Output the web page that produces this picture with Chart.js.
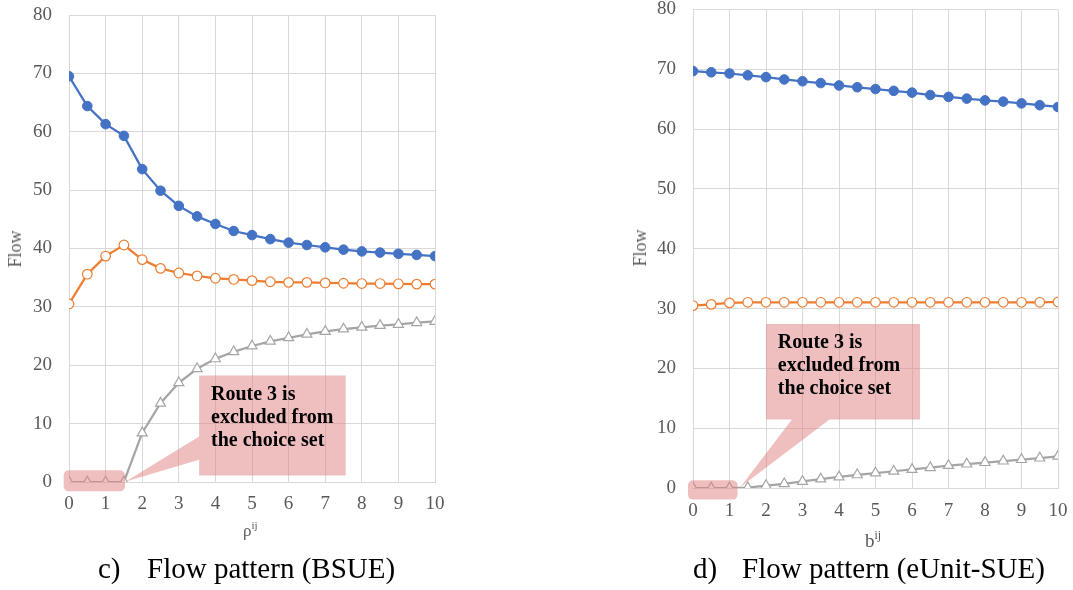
<!DOCTYPE html>
<html>
<head>
<meta charset="utf-8">
<script src="https://cdn.jsdelivr.net/npm/chart.js@4/dist/chart.umd.min.js"></script>
<style>
  body { margin: 0; background: #fff; width: 1073px; height: 590px; overflow: hidden; position: relative; font-family: "Liberation Serif", "Times New Roman", serif; }
  canvas { position: absolute; top: 0; }
  #leftChart { left: 0; }
  #rightChart { left: 620px; }
  .txt { position: absolute; white-space: pre; color: #595959; }
  .flow { font-size: 18px; line-height: 18px; transform: translate(-50%, -50%) rotate(-90deg); }
  .cap { font-size: 29px; line-height: 29px; color: #000; top: 554px; }
  sup { vertical-align: 0; position: relative; }
</style>
</head>
<body>
<canvas id="leftChart" width="460" height="590"></canvas>
<canvas id="rightChart" width="453" height="590"></canvas>

<div class="txt flow" style="left:15px; top:249px;">Flow</div>
<div class="txt flow" style="left:640px; top:248px;">Flow</div>

<div class="txt" style="left:243px; top:522px; font-size:17px; line-height:17px;">ρ<sup style="font-size:11px; top:-7px;">ij</sup></div>
<div class="txt" style="left:865px; top:531px; font-size:19px; line-height:19px;">b<sup style="font-size:12px; top:-8px;">ij</sup></div>

<div class="txt cap" style="left:98px;">c)</div>
<div class="txt cap" style="left:147px;">Flow pattern (BSUE)</div>
<div class="txt cap" style="left:693px;">d)</div>
<div class="txt cap" style="left:742px;">Flow pattern (eUnit-SUE)</div>

<script>
// shared x values (parameter rho / b)
var xValues = [0, 0.5, 1, 1.5, 2, 2.5, 3, 3.5, 4, 4.5, 5, 5.5, 6, 6.5, 7, 7.5, 8, 8.5, 9, 9.5, 10];
var yTicks = [0, 10, 20, 30, 40, 50, 60, 70, 80];
var xTicks = [0, 1, 2, 3, 4, 5, 6, 7, 8, 9, 10];

// c) BSUE route flows
var bsueRoute1 = [69.5, 64.4, 61.3, 59.3, 53.6, 49.9, 47.3, 45.5, 44.2, 43.0, 42.3, 41.6, 41.0, 40.6, 40.2, 39.8, 39.5, 39.3, 39.1, 38.9, 38.7];
var bsueRoute2 = [30.5, 35.6, 38.7, 40.6, 38.1, 36.6, 35.8, 35.3, 34.9, 34.7, 34.5, 34.3, 34.2, 34.2, 34.1, 34.05, 34.0, 34.0, 33.95, 33.9, 33.9];
var bsueRoute3 = [0, 0, 0, 0, 8.4, 13.5, 17.0, 19.4, 21.1, 22.3, 23.3, 24.1, 24.7, 25.3, 25.8, 26.2, 26.5, 26.8, 27.0, 27.3, 27.5];

// d) eUnit-SUE route flows
var eunitRoute1 = [69.7, 69.5, 69.3, 69.0, 68.7, 68.3, 68.0, 67.7, 67.3, 67.0, 66.7, 66.4, 66.1, 65.7, 65.4, 65.1, 64.8, 64.6, 64.3, 64.0, 63.7];
var eunitRoute2 = [30.5, 30.7, 30.95, 31.05, 31.05, 31.05, 31.05, 31.05, 31.05, 31.05, 31.05, 31.05, 31.05, 31.05, 31.05, 31.05, 31.05, 31.05, 31.05, 31.05, 31.1];
var eunitRoute3 = [0, 0, 0, 0.05, 0.4, 0.7, 1.1, 1.5, 1.85, 2.2, 2.5, 2.8, 3.1, 3.4, 3.75, 4.0, 4.25, 4.5, 4.75, 5.0, 5.3];

var BLUE = "#4472C4", ORANGE = "#ED7D31", GRAY = "#A5A5A5";
var GRID = "#d9d9d9", TICK = "#595959";
var PINK = "rgba(224, 128, 128, 0.5)";
var SERIF = "'Liberation Serif', 'Times New Roman', serif";

function toPoints(ys) {
  return xValues.map(function (x, i) { return { x: x, y: ys[i] }; });
}

function makeDatasets(r1, r2, r3) {
  return [
    { data: toPoints(r1), borderColor: BLUE, backgroundColor: BLUE, borderWidth: 2.25,
      pointStyle: "circle", pointRadius: 4.8, pointBorderWidth: 1, pointBackgroundColor: BLUE },
    { data: toPoints(r2), borderColor: ORANGE, backgroundColor: "#fff", borderWidth: 2.25,
      pointStyle: "circle", pointRadius: 4.8, pointBorderWidth: 1.2, pointBackgroundColor: "#fff" },
    { data: toPoints(r3), borderColor: GRAY, backgroundColor: "#fff", borderWidth: 2.25,
      pointStyle: "triangle", pointRadius: 5.8, pointBorderWidth: 1.2, pointBackgroundColor: "#fff" }
  ];
}

// pink callout + highlight box, given in data units
var calloutPlugin = {
  id: "callout",
  afterDatasetsDraw: function (chart) {
    var c = chart.options.plugins.callout;
    if (!c) return;
    var xs = chart.scales.x, ys = chart.scales.y, ctx = chart.ctx;
    var px = function (v) { return xs.getPixelForValue(v); };
    var py = function (v) { return ys.getPixelForValue(v); };
    ctx.save();
    ctx.fillStyle = PINK;

    // callout box with its tail in one path
    var b = c.box, t = c.tail;
    ctx.beginPath();
    ctx.moveTo(px(b.x0), py(b.y1));
    ctx.lineTo(px(b.x1), py(b.y1));
    ctx.lineTo(px(b.x1), py(b.y0));
    if (t.side === "bottom") {
      ctx.lineTo(px(t.b1), py(b.y0));
      ctx.lineTo(px(t.tipX), py(t.tipY));
      ctx.lineTo(px(t.b0), py(b.y0));
      ctx.lineTo(px(b.x0), py(b.y0));
    } else {
      ctx.lineTo(px(b.x0), py(b.y0));
      ctx.lineTo(px(b.x0), py(t.b0));
      ctx.lineTo(px(t.tipX), py(t.tipY));
      ctx.lineTo(px(b.x0), py(t.b1));
    }
    ctx.closePath();
    ctx.fill();

    // small rounded highlight over the zero flows
    var h = c.highlight;
    ctx.beginPath();
    ctx.roundRect(px(h.x0), py(h.y1), px(h.x1) - px(h.x0), py(h.y0) - py(h.y1), 5);
    ctx.fill();

    // label
    ctx.fillStyle = "#000";
    ctx.font = "bold 20px " + SERIF;
    ctx.textBaseline = "alphabetic";
    ctx.textAlign = "left";
    var tx = px(c.text.x), ty = py(c.text.y);
    c.text.lines.forEach(function (line, i) {
      ctx.fillText(line, tx, ty + i * 23);
    });
    ctx.restore();
  }
};

// tick gaps come from invisible tick marks so the scales don't pad the chart area
function makeChart(id, datasets, yWidth, xHeight, padTop, padRight, xGap, callout) {
  return new Chart(document.getElementById(id), {
    type: "line",
    data: { datasets: datasets },
    plugins: [calloutPlugin],
    options: {
      responsive: false,
      animation: false,
      layout: { padding: { top: padTop, right: padRight, left: 0, bottom: 0 } },
      plugins: { legend: { display: false }, tooltip: { enabled: false }, callout: callout },
      scales: {
        x: {
          type: "linear", min: 0, max: 10,
          afterFit: function (s) { s.height = xHeight; },
          afterBuildTicks: function (s) { s.ticks = xTicks.map(function (v) { return { value: v }; }); },
          grid: { color: GRID, lineWidth: 1, drawTicks: true, tickLength: xGap, tickColor: "rgba(0,0,0,0)" },
          border: { color: GRID },
          ticks: { padding: 0, color: TICK, font: { family: SERIF, size: 19 } }
        },
        y: {
          min: 0, max: 80,
          afterFit: function (s) { s.width = yWidth; },
          afterBuildTicks: function (s) { s.ticks = yTicks.map(function (v) { return { value: v }; }); },
          grid: { color: GRID, lineWidth: 1, drawTicks: true, tickLength: 17, tickColor: "rgba(0,0,0,0)" },
          border: { color: GRID },
          ticks: { padding: 0, color: TICK, font: { family: SERIF, size: 19, lineHeight: 1 } }
        }
      }
    }
  });
}

var label = ["Route 3 is", "excluded from", "the choice set"];

// c) Flow pattern (BSUE)
makeChart("leftChart", makeDatasets(bsueRoute1, bsueRoute2, bsueRoute3), 69, 108, 15, 25, 11, {
  box: { x0: 3.555, x1: 7.56, y0: 1.13, y1: 18.25 },
  tail: { side: "left", b0: 3.8, b1: 7.8, tipX: 1.55, tipY: 0.1 },
  highlight: { x0: -0.145, x1: 1.53, y0: -1.6, y1: 2.0 },
  text: { x: 3.88, y: 14.1, lines: label }
});

// d) Flow pattern (eUnit-SUE)
makeChart("rightChart", makeDatasets(eunitRoute1, eunitRoute2, eunitRoute3), 73, 102, 9, 15, 12, {
  box: { x0: 2.0, x1: 6.22, y0: 11.44, y1: 27.4 },
  tail: { side: "bottom", b0: 2.71, b1: 3.74, tipX: 1.3, tipY: 0.17 },
  highlight: { x0: -0.137, x1: 1.22, y0: -1.94, y1: 1.29 },
  text: { x: 2.325, y: 23.4, lines: label }
});
</script>
</body>
</html>
